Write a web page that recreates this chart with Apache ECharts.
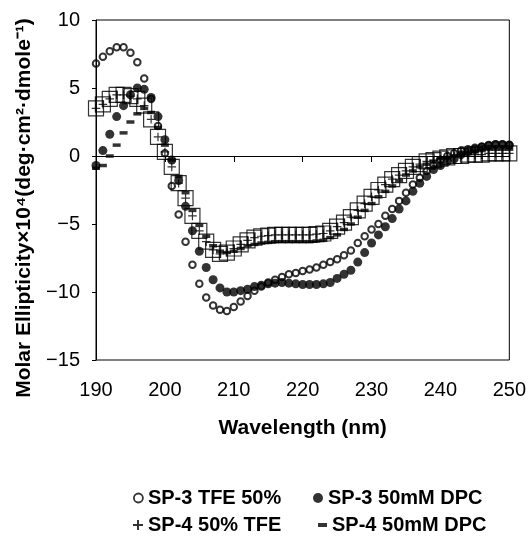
<!DOCTYPE html>
<html><head><meta charset="utf-8">
<script src="https://cdn.jsdelivr.net/npm/echarts@6/dist/echarts.min.js"></script>
<style>html,body{margin:0;padding:0;background:#fff}#c{width:529px;height:542px}</style>
</head><body><div id="c"></div>
<script>
const wavelengths = [190,191,192,193,194,195,196,197,198,199,200,201,202,203,204,205,206,207,208,209,210,211,212,213,214,215,216,217,218,219,220,221,222,223,224,225,226,227,228,229,230,231,232,233,234,235,236,237,238,239,240,241,242,243,244,245,246,247,248,249,250];
const sp3Tfe = [6.8,7.3,7.7,8.0,8.0,7.6,6.9,5.7,4.2,2.2,0.2,-2.2,-4.3,-6.3,-8.0,-9.4,-10.4,-11.0,-11.3,-11.4,-11.1,-10.7,-10.3,-9.9,-9.6,-9.3,-9.1,-8.9,-8.7,-8.6,-8.45,-8.35,-8.2,-8.0,-7.8,-7.6,-7.3,-6.95,-6.4,-5.9,-5.4,-5.0,-4.4,-3.9,-3.3,-2.7,-2.1,-1.6,-1.1,-0.7,-0.3,0.0,0.2,0.4,0.5,0.6,0.7,0.8,0.85,0.85,0.8];
const sp3Dpc = [-0.7,0.4,1.6,2.9,3.7,4.5,5.0,4.9,4.3,2.9,1.2,-0.3,-1.8,-3.7,-5.5,-7.0,-8.2,-9.1,-9.7,-10.0,-10.0,-9.9,-9.8,-9.6,-9.5,-9.4,-9.35,-9.3,-9.35,-9.4,-9.45,-9.45,-9.45,-9.4,-9.3,-9.0,-8.7,-8.4,-7.8,-7.1,-6.4,-5.8,-5.2,-4.6,-3.9,-3.3,-2.6,-2.0,-1.5,-1.0,-0.7,-0.4,-0.2,0.1,0.3,0.5,0.65,0.75,0.85,0.85,0.8];
const sp4Tfe = [3.5,3.8,4.2,4.5,4.5,4.4,4.2,3.7,2.7,1.4,0.3,-0.8,-2.0,-3.1,-4.4,-5.5,-6.3,-6.9,-7.2,-7.1,-6.8,-6.5,-6.2,-6.0,-5.9,-5.85,-5.8,-5.8,-5.8,-5.8,-5.8,-5.8,-5.75,-5.7,-5.5,-5.2,-4.9,-4.5,-4.0,-3.5,-3.0,-2.5,-2.1,-1.7,-1.4,-1.1,-0.8,-0.6,-0.4,-0.3,-0.2,-0.1,0.0,0.0,0.1,0.1,0.1,0.2,0.2,0.2,0.2];
const sp4Dpc = [-0.9,-0.7,0.0,0.8,1.7,2.5,3.1,3.5,3.2,2.1,0.8,-0.3,-1.5,-2.7,-4.0,-5.1,-5.9,-6.6,-7.0,-7.1,-7.0,-6.8,-6.6,-6.5,-6.4,-6.35,-6.3,-6.3,-6.3,-6.3,-6.3,-6.3,-6.25,-6.2,-6.0,-5.8,-5.4,-5.0,-4.5,-4.0,-3.5,-3.0,-2.6,-2.2,-1.8,-1.4,-1.1,-0.8,-0.6,-0.4,-0.2,-0.1,0.0,0.1,0.2,0.3,0.4,0.5,0.5,0.5,0.5];
const seriesNames = ['SP-3 TFE 50%','SP-3 50mM DPC','SP-4 50% TFE','SP-4 50mM DPC'];
const xTicks = [190,200,210,220,230,240,250];
const yTicks = [-15,-10,-5,0,5,10];

const FONT = '"Liberation Sans", Arial, Helvetica, sans-serif';
function pairs(vals){ return wavelengths.map((w,i)=>[w, vals[i]]); }
const plusSquare = 'path://M0,0H14V14H0Z M7,3V11 M3,7H11';
const plusIcon = 'path://M4,0H6V4H10V6H6V10H4V6H0V4H4Z';

function legendAt(left, top, name, icon, w, h, itemStyle){
  return {
    left: left, top: top, orient:'horizontal', selectedMode:false,
    itemWidth: w, itemHeight: h, itemGap: 0,
    textStyle:{fontFamily:FONT, fontSize:20, fontWeight:'bold', color:'#000'},
    data:[{name:name, icon:icon, itemStyle:itemStyle}]
  };
}

const chart = echarts.init(document.getElementById('c'), null, {renderer:'canvas'});
chart.setOption({
  animation:false,
  backgroundColor:'#fff',
  grid:{left:96, right:19, top:20, bottom:182, show:true, borderColor:'#000', borderWidth:1, backgroundColor:'transparent'},
  legend:[
    legendAt(128, 483, seriesNames[0], 'circle', 9, 9, {color:'#fff', borderColor:'#000', borderWidth:1.8}),
    legendAt(308, 483, seriesNames[1], 'circle', 10, 10, {color:'#000', borderWidth:0}),
    legendAt(128, 510, seriesNames[2], plusIcon, 10, 10, {color:'#000', borderWidth:0}),
    legendAt(313, 510, seriesNames[3], 'rect', 9, 4, {color:'#000', borderWidth:0})
  ],
  xAxis:[{
    type:'value', min:xTicks[0], max:xTicks[xTicks.length-1], interval:10, position:'bottom',
    name:'Wavelength (nm)', nameLocation:'middle', nameGap:58,
    nameTextStyle:{fontFamily:FONT, fontSize:21, fontWeight:'bold', color:'#000'},
    axisLine:{show:false, onZero:false}, axisTick:{show:false},
    axisLabel:{fontFamily:FONT, fontSize:20, color:'#000', margin:20},
    splitLine:{show:false}
  },{
    type:'value', min:xTicks[0], max:xTicks[xTicks.length-1], interval:10, position:'top',
    axisLine:{show:true, onZero:true, lineStyle:{color:'#000', width:1}},
    axisTick:{show:true, inside:true, length:6, lineStyle:{color:'#000'}},
    axisLabel:{show:false}, splitLine:{show:false}
  }],
  yAxis:{
    type:'value', min:yTicks[0], max:yTicks[yTicks.length-1], interval:5,
    name:'Molar Ellipticity×10⁴(deg·cm²·dmole⁻¹)', nameLocation:'middle', nameGap:57,
    nameTextStyle:{fontFamily:FONT, fontSize:21, fontWeight:'bold', color:'#000', padding:[0,36,0,0]},
    axisLine:{show:true, lineStyle:{color:'#000'}},
    axisTick:{show:true, length:4, lineStyle:{color:'#000'}},
    axisLabel:{fontFamily:FONT, fontSize:20, color:'#000', margin:16, formatter:v=>String(v).replace('-','\u2212')},
    splitLine:{show:false}
  },
  series:[
    {name:seriesNames[0], type:'scatter', data:pairs(sp3Tfe), symbol:'circle', symbolSize:6.5,
      itemStyle:{color:'rgba(255,255,255,0)', borderColor:'#000', borderWidth:2}},
    {name:seriesNames[1], type:'scatter', data:pairs(sp3Dpc), symbol:'circle', symbolSize:9,
      itemStyle:{color:'#000'}},
    {name:seriesNames[2], type:'scatter', data:pairs(sp4Tfe), symbol:plusSquare, symbolSize:15,
      itemStyle:{color:'rgba(255,255,255,0)', borderColor:'#000', borderWidth:1.2}},
    {name:seriesNames[3], type:'scatter', data:pairs(sp4Dpc), symbol:'rect', symbolSize:[8,3.5],
      itemStyle:{color:'#000'}}
  ]
});
</script></body></html>
